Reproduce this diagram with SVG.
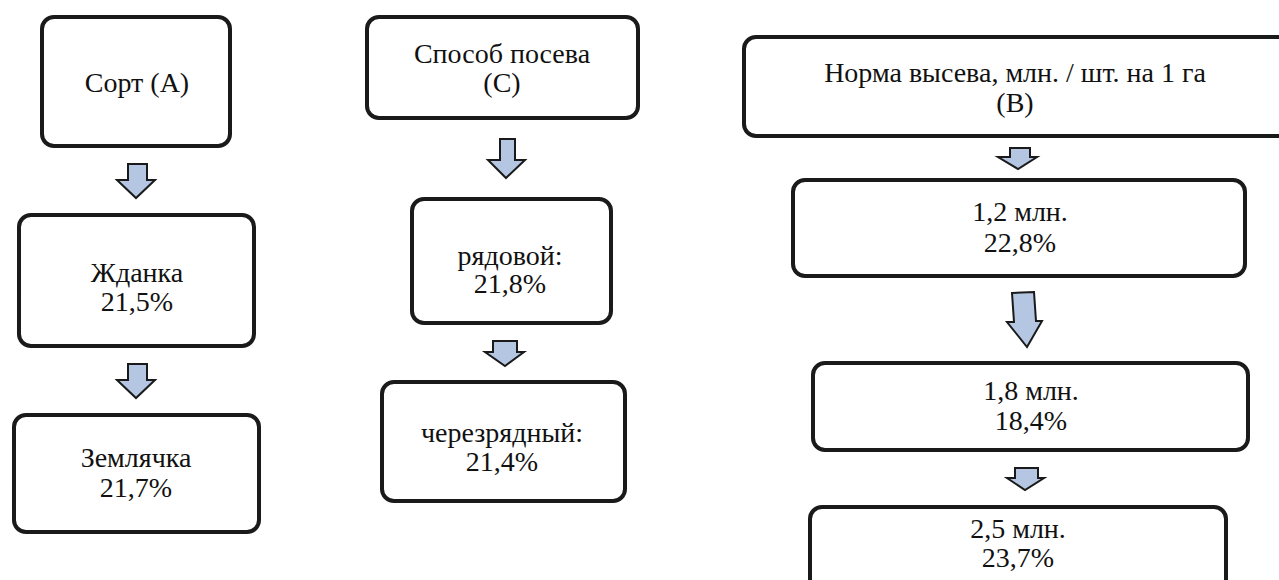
<svg xmlns="http://www.w3.org/2000/svg" width="1279" height="580" viewBox="0 0 1279 580" xml:lang="ru">
<style>
.box{fill:#ffffff;stroke:#1a1a1a;stroke-width:4}
.arr{fill:#b4c6e2;stroke:#1a1a1a;stroke-width:2}
.t{font-family:"Times New Roman","Liberation Serif",Tinos,"DejaVu Serif",serif;font-size:28px;text-anchor:middle;fill:#111}
</style>
<rect width="1279" height="580" fill="#fff"/>
<g id="connectors">
<path class="arr" d="M128,164 L147,164 L147,180 L155,180 L136,198 L117,180 L128,180 Z"/>
<path class="arr" d="M128,364 L147,364 L147,380 L155,380 L136,398 L117,380 L128,380 Z"/>
<path class="arr" d="M500,139 L515,139 L515,160 L525,160 L506,178 L488,160 L500,160 Z"/>
<path class="arr" d="M493,341 L517,341 L517,352 L524,352 L505,366 L485,352 L493,352 Z"/>
<path class="arr" d="M1010,148 L1030,148 L1030,157 L1037,157 L1018,169 L998,157 L1010,157 Z"/>
<path class="arr" d="M1012,293 L1034,292 L1036,321 L1042,321 L1027,347 L1007,322 L1014,322 Z"/>
<path class="arr" d="M1015,468 L1038,468 L1038,478 L1044,478 L1025,490 L1007,478 L1015,478 Z"/>
</g>
<g id="node-sort"><rect class="box" x="42" y="17" width="188" height="129" rx="12"/>
<text class="t" x="137" y="92">Сорт (А)</text></g>
<g id="node-zhdanka"><rect class="box" x="19" y="215" width="235" height="131" rx="12"/>
<text class="t" x="137" y="282">Жданка</text>
<text class="t" x="137" y="311">21,5%</text></g>
<g id="node-zemlyachka"><rect class="box" x="14" y="415" width="245" height="117" rx="12"/>
<text class="t" x="136" y="467">Землячка</text>
<text class="t" x="136" y="497">21,7%</text></g>
<g id="node-sposob"><rect class="box" x="367" y="17" width="271" height="101" rx="12"/>
<text class="t" x="502" y="63">Способ посева</text>
<text class="t" x="502" y="92">(С)</text></g>
<g id="node-ryadovoy"><rect class="box" x="412" y="199" width="199" height="124" rx="12"/>
<text class="t" x="510" y="265">рядовой:</text>
<text class="t" x="510" y="293">21,8%</text></g>
<g id="node-cherez"><rect class="box" x="382" y="382" width="243" height="119" rx="12"/>
<text class="t" x="502" y="442">черезрядный:</text>
<text class="t" x="502" y="471">21,4%</text></g>
<g id="node-norma"><rect class="box" x="744" y="37" width="560" height="99" rx="12"/>
<text class="t" x="1015" y="82">Норма высева, млн. / шт. на 1 га</text>
<text class="t" x="1015" y="112">(В)</text></g>
<g id="node-12"><rect class="box" x="793" y="180" width="452" height="96" rx="12"/>
<text class="t" x="1020" y="221">1,2 млн.</text>
<text class="t" x="1020" y="252">22,8%</text></g>
<g id="node-18"><rect class="box" x="813" y="363" width="435" height="87" rx="12"/>
<text class="t" x="1031" y="400">1,8 млн.</text>
<text class="t" x="1031" y="430">18,4%</text></g>
<g id="node-25"><rect class="box" x="810" y="507" width="416" height="90" rx="12"/>
<text class="t" x="1018" y="538">2,5 млн.</text>
<text class="t" x="1018" y="567">23,7%</text></g>
</svg>
